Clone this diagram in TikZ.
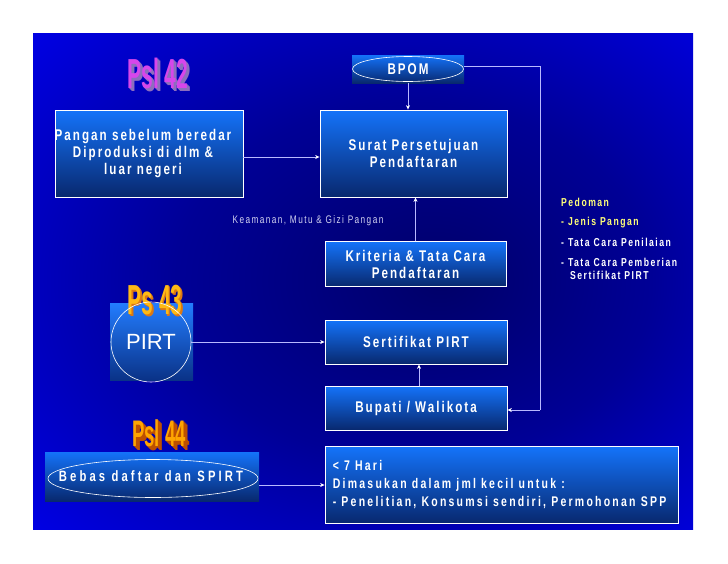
\documentclass[tikz,border=0pt]{standalone}
\usepackage{fontspec}
\setmainfont{Liberation Sans}
\newfontfamily\bxf{Liberation Sans}[FakeStretch=0.75,LetterSpace=13]
\newfontfamily\bxfm{Liberation Sans}[FakeStretch=0.75,LetterSpace=16]
\newfontfamily\bxfw{Liberation Sans}[FakeStretch=0.75,LetterSpace=21]
\newfontfamily\waf{Liberation Sans}[FakeStretch=0.5]
\usetikzlibrary{shapes.geometric,arrows.meta,calc}
\definecolor{bgc}{RGB}{0,0,105}
\definecolor{bgm}{RGB}{0,0,150}
\definecolor{bgo}{RGB}{0,0,250}
\definecolor{btop}{RGB}{20,115,250}
\definecolor{bbot}{RGB}{8,40,110}
\definecolor{lin}{RGB}{185,185,255}
\definecolor{yel}{RGB}{255,255,120}
\definecolor{lab}{RGB}{210,210,240}
\definecolor{magA}{RGB}{215,70,235}
\definecolor{magS}{RGB}{140,110,190}
\definecolor{orA}{RGB}{255,185,20}
\definecolor{orS}{RGB}{220,120,20}
\definecolor{orB}{RGB}{255,165,0}
\definecolor{orBS}{RGB}{190,80,0}
\pgfdeclareradialshading{bgshade}{\pgfpoint{6bp}{0bp}}{color(0bp)=(bgc); color(18bp)=(bgm); color(42bp)=(bgo); color(50bp)=(bgo)}
% word-art text with a stepped extrusion, as one text
\newcommand\wordart[4]{% #1 shadow colour, #2 main colour, #3 depth steps (pt), #4 text
  \foreach \d in {#3}{\rlap{\hspace{\d pt}\raisebox{-\d pt}{\color{#1}#4}}}{\color{#2}#4}}
\tikzset{
  box/.style={rectangle, draw=white, line width=0.8pt, top color=btop, bottom color=bbot, inner sep=0pt, text=white, align=center,
    font=\bxf\bfseries\fontsize{15.5}{17}\selectfont},
  backbox/.style={rectangle, top color=btop, bottom color=bbot, inner sep=0pt},
  conn/.style={draw=lin, line width=0.8pt, -{Stealth[length=4.5pt,width=4pt,color=white]}},
  plain/.style={draw=lin, line width=0.8pt},
  wa/.style={font=\waf\bfseries\fontsize{42}{42}\selectfont, inner sep=0pt},
  ped/.style={anchor=west, inner sep=0pt, text=white, font=\bxf\bfseries\fontsize{11.5}{12}\selectfont}
}
\begin{document}
\begin{tikzpicture}[x=1pt,y=-1pt]
\useasboundingbox (0,0) rectangle (728,563);
\fill[white] (0,0) rectangle (728,563);
\shade[shading=bgshade] (33,33) rectangle (693,529);

% WordArt title Psl 42
\node[wa] (w42) at (158,75) {\wordart{magS}{magA}{3,2,1}{Psl 42}};

% BPOM
\node[backbox, minimum width=112pt, minimum height=28pt] (bpombg) at (408,69) {};
\draw[white, line width=0.6pt] (bpombg.center) ellipse [x radius=55.5, y radius=12.5];
\node[inner sep=0pt, text=white, font=\bxf\bfseries\fontsize{15.5}{17}\selectfont] (bpom) at (408,69) {BPOM};

% main boxes
\node[box, minimum width=188pt, minimum height=87pt] (pangan) at (149,153.5) {};
\node[inner sep=0pt, text=white, align=center, font=\bxf\bfseries\fontsize{15.5}{17}\selectfont] (pangantext) at ($(pangan)+(-6,0)$) {Pangan sebelum beredar\\Diproduksi di dlm \&\\luar negeri};
\node[box, minimum width=187pt, minimum height=87pt] (surat) at (413.5,153.5) {Surat Persetujuan\\Pendaftaran};
\node[box, minimum width=181pt, minimum height=45pt] (kriteria) at (415.5,264) {Kriteria \& Tata Cara\\Pendaftaran};
\node[box, minimum width=182pt, minimum height=44pt] (sertifikat) at (416,342) {Sertifikat PIRT};
\node[box, minimum width=182pt, minimum height=44pt] (bupati) at (416,408) {Bupati / Walikota};
\node[box, minimum width=353pt, minimum height=77pt] (big) at (501.5,485) {};
\node[inner sep=0pt, anchor=west, align=left, text=white, font=\bxfm\bfseries\fontsize{14}{18}\selectfont] (bigtext) at ($(big.west)+(8,0)$) {< 7 Hari\\Dimasukan dalam jml kecil untuk :\\- Penelitian, Konsumsi sendiri, Permohonan SPP};

% label
\node[inner sep=0pt, text=lab, font=\bxf\fontsize{11}{12}\selectfont] (keam) at (308,221) {Keamanan, Mutu \& Gizi Pangan};

% Pedoman list
\node[ped, text=yel] (p0) at (561,202.5) {Pedoman};
\node[ped, text=yel] (p1) at (561,222.5) {-\hspace{4pt}Jenis Pangan};
\node[ped] (p2) at (561,242) {-\hspace{4pt}Tata Cara Penilaian};
\node[ped] (p3) at (561,262) {-\hspace{4pt}Tata Cara Pemberian};
\node[ped] (p4) at (570,275.5) {Sertifikat PIRT};

% Ps 43 / PIRT
\node[backbox, minimum width=83pt, minimum height=77pt, top color={rgb,255:red,35;green,125;blue,255}, bottom color={rgb,255:red,10;green,50;blue,135}] (pirtbg) at (151.5,341.5) {};
\node[wa] (w43) at (155,301) {\wordart{orS}{orA}{1.5,1}{Ps 43}};
\node[circle, draw=white, line width=0.6pt, minimum size=80pt, inner sep=0pt, text=white, font=\fontsize{22}{22}\selectfont] (pirt) at (151,342) {PIRT};

% Psl 44 / Bebas
\node[wa, font=\waf\bfseries\fontsize{37}{37}\selectfont] (w44) at (159,435) {\wordart{orBS}{orB}{4,3,2,1}{Psl 44}};
\node[backbox, minimum width=214pt, minimum height=49pt] (bebasbg) at (152,476.5) {};
\draw[white, line width=0.6pt] ($(bebasbg.center)+(1,2)$) ellipse [x radius=105, y radius=19];
\node[inner sep=0pt, text=white, font=\bxfw\bfseries\fontsize{15}{17}\selectfont] (bebas) at (151,476) {Bebas daftar dan SPIRT};

% connectors
\coordinate (c1) at (540,66);
\coordinate (c2) at (540,410);
\draw[plain] (bpombg.east |- c1) -- (c1) -- (c2);
\draw[conn] (c2) -- (c2 -| bupati.east);
\draw[conn] (bpombg.south) -- (bpombg.south |- surat.north);
\draw[conn] ([yshift=-3.5pt]pangan.east) -- ([yshift=-3.5pt]surat.west);
\draw[conn] (kriteria.north) -- (kriteria.north |- surat.south);
\draw[conn] (pirt.east) -- (sertifikat.west);
\draw[conn] ([xshift=3pt]bupati.north) -- ([xshift=3pt]sertifikat.south);
\draw[conn] (bebasbg.east |- big.west) -- (big.west);
\end{tikzpicture}
\end{document}
